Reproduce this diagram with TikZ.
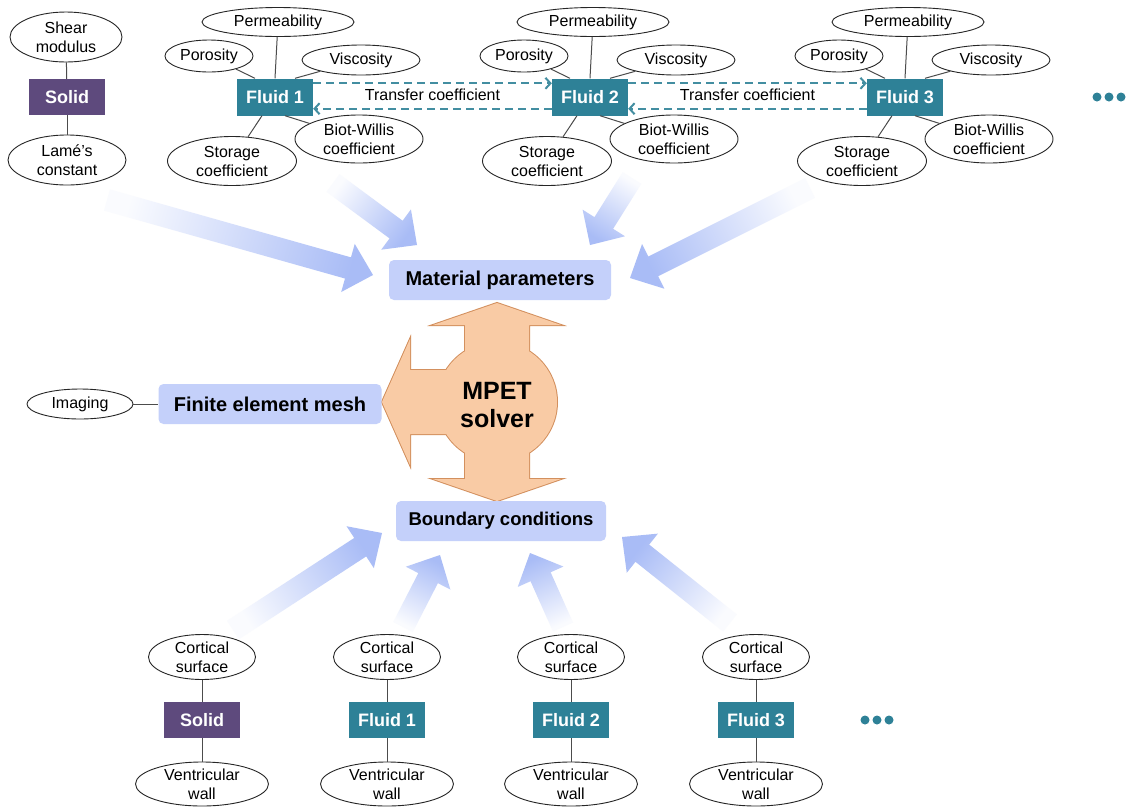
\documentclass[tikz,border=0pt]{standalone}
\usepackage{fontspec}
\setmainfont{Liberation Sans}
\usetikzlibrary{shapes.geometric,arrows.meta,calc}

\definecolor{solidpurple}{HTML}{5E4A7D}
\definecolor{fluidteal}{HTML}{2E8197}
\definecolor{stepblue}{HTML}{C4D0FA}
\definecolor{arrowblue}{HTML}{A9BCF6}
\definecolor{mpetfill}{HTML}{F9CBA5}
\definecolor{mpetline}{HTML}{D3905E}

\tikzset{
  param/.style={ellipse,draw=black!85,line width=0.9pt,fill=white,inner sep=0pt,align=center,
    font=\fontsize{16}{19}\selectfont},
  solidbox/.style={rectangle,fill=solidpurple,text=white,inner sep=0pt,
    minimum width=76pt,minimum height=36pt,font=\fontsize{18}{20}\selectfont\bfseries},
  fluidbox/.style={solidbox,fill=fluidteal},
  stepbox/.style={rectangle,rounded corners=5pt,fill=stepblue,inner sep=0pt,
    minimum height=40pt,font=\fontsize{20}{22}\selectfont\bfseries},
  transfer/.style={draw=fluidteal!90!white,line width=2pt,dash pattern=on 8pt off 5pt,
    -{Straight Barb[length=5pt,width=11pt]}},
  dot/.style={circle,fill=fluidteal,inner sep=0pt,minimum size=9pt}
}

% wide shaded arrow from tail #1 to tip #2
\newcommand{\bigarrow}[2]{%
  \pgfmathanglebetweenpoints{\pgfpointanchor{#1}{center}}{\pgfpointanchor{#2}{center}}%
  \pgfmathsetmacro{\arrang}{\pgfmathresult-90}%
  \coordinate (ab) at ($(#2)!26pt!(#1)$);
  \shade[bottom color=arrowblue!6!white,top color=arrowblue,shading angle=\arrang]
    ($(#1)!11pt!90:(#2)$) -- ($(ab)!11pt!-90:(#1)$) -- ($(ab)!25pt!-90:(#1)$) -- (#2)
    -- ($(ab)!25pt!90:(#1)$) -- ($(ab)!11pt!90:(#1)$) -- ($(#1)!11pt!-90:(#2)$) -- cycle;
}

\begin{document}
\begin{tikzpicture}[x=1pt,y=-1pt]
    \useasboundingbox (0,0) rectangle (1128,807);
    \fill[white] (0,0) rectangle (1128,807);

    % big arrows into the steps
    \coordinate (ta1) at (107,200);  \coordinate (ha1) at (373,275);
    \coordinate (ta2) at (333,183);  \coordinate (ha2) at (417,245);
    \coordinate (ta3) at (632,178);  \coordinate (ha3) at (590,245);
    \coordinate (ta4) at (810,188);  \coordinate (ha4) at (630,278);
    \coordinate (tb1) at (233,630);  \coordinate (hb1) at (382,533);
    \coordinate (tb2) at (403,627);  \coordinate (hb2) at (440,555);
    \coordinate (tb3) at (563,627);  \coordinate (hb3) at (530,553);
    \coordinate (tb4) at (730,623);  \coordinate (hb4) at (622,537);
    \bigarrow{ta1}{ha1}
    \bigarrow{ta2}{ha2}
    \bigarrow{ta3}{ha3}
    \bigarrow{ta4}{ha4}
    \bigarrow{tb1}{hb1}
    \bigarrow{tb2}{hb2}
    \bigarrow{tb3}{hb3}
    \bigarrow{tb4}{hb4}

    % MPET solver
    \begin{scope}[shift={(497,402)}]
      \draw[mpetline,line width=2pt]
        (0,-99) -- (64,-77) -- (32,-77) -- (32,77) -- (64,77) -- (0,99)
        -- (-64,77) -- (-32,77) -- (-32,-77) -- (-64,-77) -- cycle
        (-115,0) -- (-87,-63) -- (-87,-32) -- (0,-32) -- (0,32) -- (-87,32) -- (-87,63) -- cycle
        (0,0) circle[radius=60];
      \fill[mpetfill]
        (0,-99) -- (64,-77) -- (32,-77) -- (32,77) -- (64,77) -- (0,99)
        -- (-64,77) -- (-32,77) -- (-32,-77) -- (-64,-77) -- cycle
        (-115,0) -- (-87,-63) -- (-87,-32) -- (0,-32) -- (0,32) -- (-87,32) -- (-87,63) -- cycle;
      \fill[mpetfill] (0,0) circle[radius=60];
    \end{scope}
    \node[align=center,font=\fontsize{25}{28}\selectfont\bfseries] (mpet) at (497,405) {MPET\\solver};

    % steps
    \node[stepbox,minimum width=222pt] (mat) at (500,280) {Material parameters};
    \node[stepbox,minimum width=223pt] (fem) at (270,404) {Finite element mesh};
    \node[stepbox,minimum width=210pt,font=\fontsize{18.5}{22}\selectfont\bfseries] (bc) at (501,521) {Boundary conditions};

    % compartments
    \node[solidbox] (so) at (67,97) {Solid};
    \node[fluidbox,minimum height=37pt] (f1) at (275,97) {Fluid 1};
    \node[fluidbox,minimum height=37pt] (f2) at (590,97) {Fluid 2};
    \node[fluidbox,minimum height=37pt] (f3) at (905,97) {Fluid 3};
    \node[solidbox] (bso) at (202,720) {Solid};
    \node[fluidbox] (bf1) at (387,720) {Fluid 1};
    \node[fluidbox] (bf2) at (571,720) {Fluid 2};
    \node[fluidbox] (bf3) at (756,720) {Fluid 3};

    \begin{scope}[every node/.style={param}]
      \node[minimum width=112pt,minimum height=50pt] (sh) at (66,37) {Shear\\modulus};
      \node[minimum width=118pt,minimum height=50pt] (la) at (67,160) {Lamé's\\constant};
      \node[minimum width=152pt,minimum height=29pt] (p1) at (278,22) {Permeability};
      \node[minimum width=88pt,minimum height=32pt] (o1) at (209,56) {Porosity};
      \node[minimum width=118pt,minimum height=30pt] (v1) at (361,60) {Viscosity};
      \node[minimum width=129pt,minimum height=49pt] (s1) at (232,161) {Storage\\coefficient};
      \node[minimum width=128pt,minimum height=48pt] (b1) at (359,139) {Biot-Willis\\coefficient};
      \node[minimum width=152pt,minimum height=29pt] (p2) at (593,22) {Permeability};
      \node[minimum width=88pt,minimum height=32pt] (o2) at (524,56) {Porosity};
      \node[minimum width=118pt,minimum height=30pt] (v2) at (676,60) {Viscosity};
      \node[minimum width=129pt,minimum height=49pt] (s2) at (547,161) {Storage\\coefficient};
      \node[minimum width=128pt,minimum height=48pt] (b2) at (674,139) {Biot-Willis\\coefficient};
      \node[minimum width=152pt,minimum height=29pt] (p3) at (908,22) {Permeability};
      \node[minimum width=88pt,minimum height=32pt] (o3) at (839,56) {Porosity};
      \node[minimum width=118pt,minimum height=30pt] (v3) at (991,60) {Viscosity};
      \node[minimum width=129pt,minimum height=49pt] (s3) at (862,161) {Storage\\coefficient};
      \node[minimum width=128pt,minimum height=48pt] (b3) at (989,139) {Biot-Willis\\coefficient};
      \node[minimum width=106pt,minimum height=30pt] (im) at (80,404) {Imaging};
      \node[minimum width=107pt,minimum height=45pt] (c0) at (202,657) {Cortical\\surface};
      \node[minimum width=107pt,minimum height=45pt] (c1) at (387,657) {Cortical\\surface};
      \node[minimum width=107pt,minimum height=45pt] (c2) at (571,657) {Cortical\\surface};
      \node[minimum width=107pt,minimum height=45pt] (c3) at (756,657) {Cortical\\surface};
      \node[minimum width=133pt,minimum height=44pt] (w0) at (202,784) {Ventricular\\wall};
      \node[minimum width=133pt,minimum height=44pt] (w1) at (387,784) {Ventricular\\wall};
      \node[minimum width=133pt,minimum height=44pt] (w2) at (571,784) {Ventricular\\wall};
      \node[minimum width=133pt,minimum height=44pt] (w3) at (756,784) {Ventricular\\wall};
    \end{scope}

    \begin{scope}[every edge/.style={draw=black!70,line width=1pt}]
      \path (sh) edge (so);
      \path (so) edge (la);
      \path (p1) edge (f1.north);
      \path (o1) edge ([xshift=-20pt]f1.north);
      \path (v1) edge ([xshift=20pt]f1.north);
      \path (s1) edge ([xshift=-13pt]f1.south);
      \path (b1) edge ([xshift=10pt]f1.south);
      \path (p2) edge (f2.north);
      \path (o2) edge ([xshift=-20pt]f2.north);
      \path (v2) edge ([xshift=20pt]f2.north);
      \path (s2) edge ([xshift=-13pt]f2.south);
      \path (b2) edge ([xshift=10pt]f2.south);
      \path (p3) edge (f3.north);
      \path (o3) edge ([xshift=-20pt]f3.north);
      \path (v3) edge ([xshift=20pt]f3.north);
      \path (s3) edge ([xshift=-13pt]f3.south);
      \path (b3) edge ([xshift=10pt]f3.south);
      \path (im) edge (fem);
      \path (c0) edge (bso);
      \path (bso) edge (w0);
      \path (c1) edge (bf1);
      \path (bf1) edge (w1);
      \path (c2) edge (bf2);
      \path (bf2) edge (w2);
      \path (c3) edge (bf3);
      \path (bf3) edge (w3);
    \end{scope}

    % exchange between fluids
    \draw[transfer] ([yshift=-5pt]f1.north east) -- ([yshift=-5pt]f2.north west);
    \draw[transfer] ([yshift=7pt]f2.south west) -- ([yshift=7pt]f1.south east);
    \draw[transfer] ([yshift=-5pt]f2.north east) -- ([yshift=-5pt]f3.north west);
    \draw[transfer] ([yshift=7pt]f3.south west) -- ([yshift=7pt]f2.south east);
    \node[font=\fontsize{16}{19}\selectfont] (t12) at ($(f1.east)!0.5!(f2.west)+(0,-2)$) {Transfer coefficient};
    \node[font=\fontsize{16}{19}\selectfont] (t23) at ($(f2.east)!0.5!(f3.west)+(0,-2)$) {Transfer coefficient};

    % more fluids
    \node[dot] (d1) at (1097,97) {};
    \node[dot] (d2) at (1109,97) {};
    \node[dot] (d3) at (1121,97) {};
    \node[dot] (e1) at (865,720) {};
    \node[dot] (e2) at (877,720) {};
    \node[dot] (e3) at (889,720) {};
\end{tikzpicture}
\end{document}
